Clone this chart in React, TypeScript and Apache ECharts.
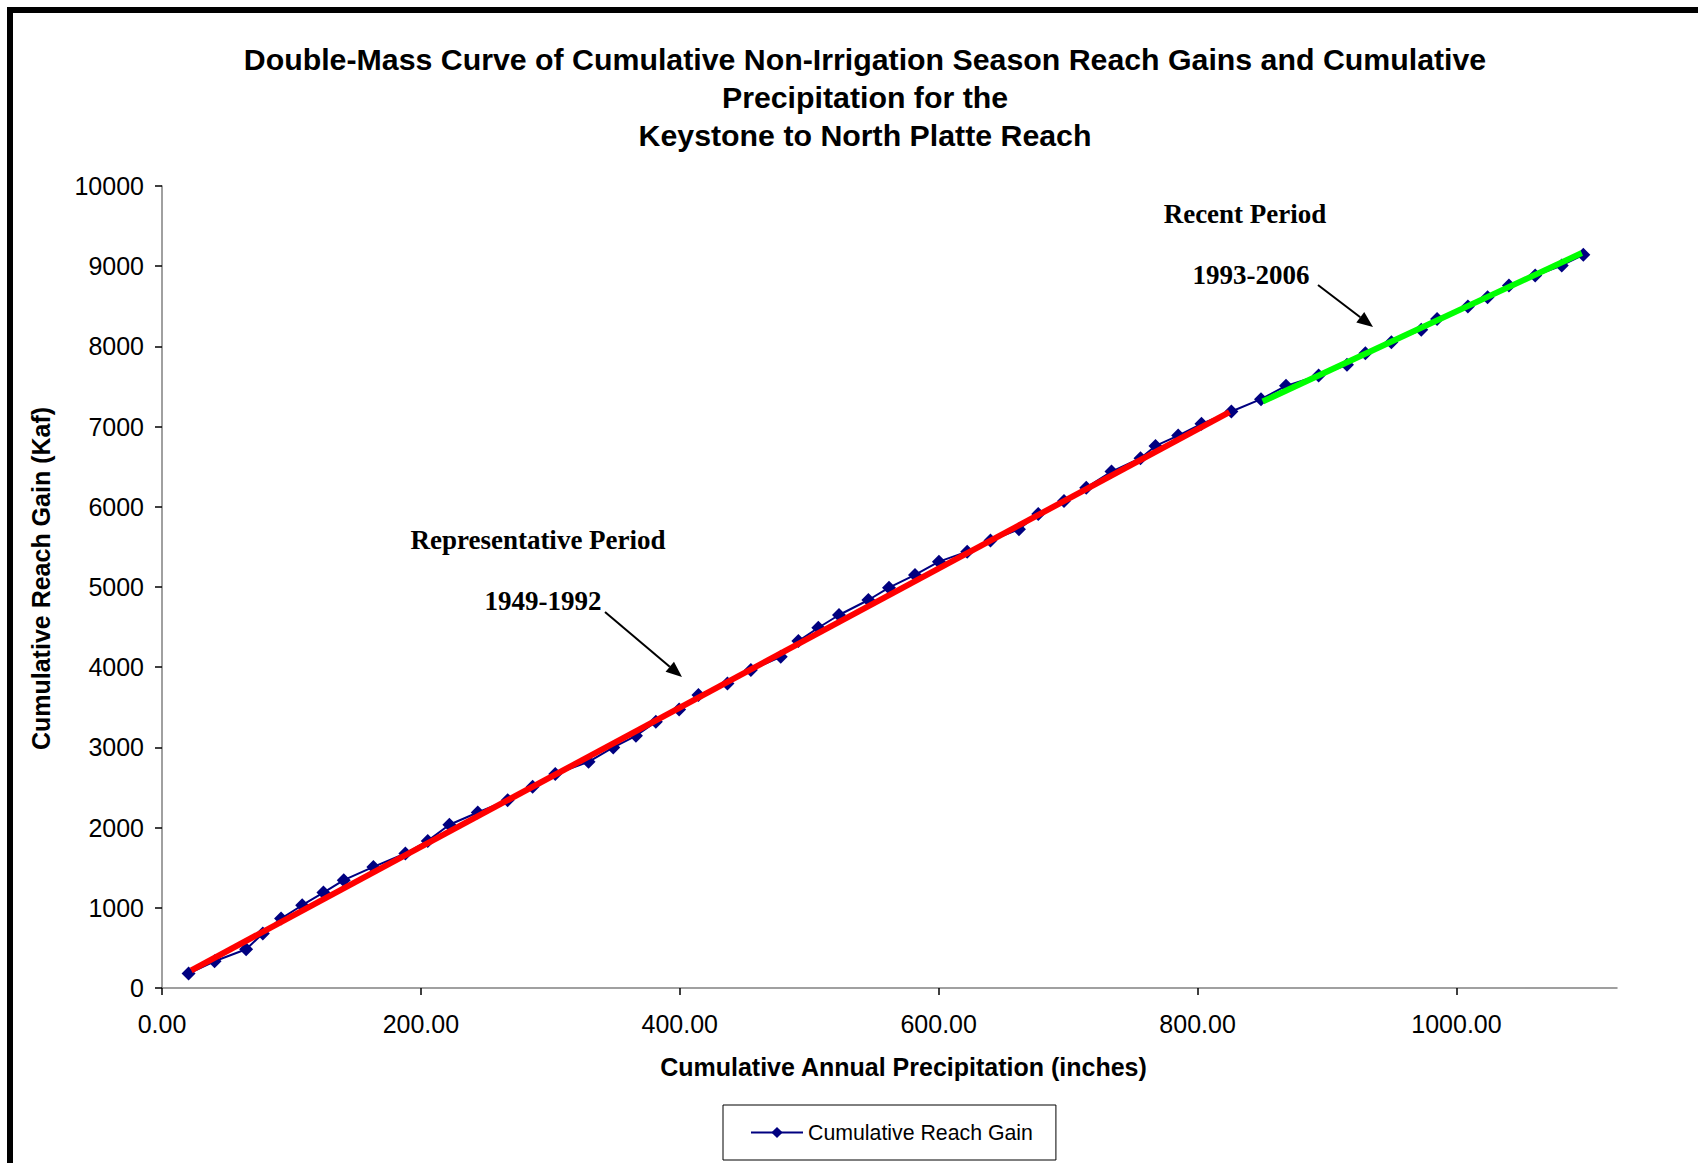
import React, { useEffect, useRef } from "react";
import * as echarts from "echarts";

// Cumulative annual precipitation (inches), 1949-2006
const precipitation = [
  20.5, 40.6, 65.0, 77.9, 92.0, 108.3, 124.7, 140.4, 163.3, 188.0,
  205.3, 222.0, 243.9, 267.0, 286.3, 303.8, 329.5, 348.6, 366.1, 381.5,
  399.5, 414.4, 436.8, 454.9, 478.0, 491.6, 507.0, 523.0, 545.7, 561.6,
  581.7, 600.2, 622.0, 640.0, 662.0, 676.9, 696.8, 714.0, 733.5, 755.9,
  767.5, 785.0, 803.0, 826.1, 849.0, 868.3, 893.5, 915.4, 929.6, 949.7,
  972.8, 985.0, 1008.8, 1024.0, 1040.5, 1060.8, 1081.3, 1098.0,
];
// Cumulative reach gain (Kaf)
const reachGain = [
  180, 333, 483, 679, 866, 1032, 1190, 1344, 1510, 1677,
  1834, 2036, 2188, 2342, 2508, 2667, 2820, 3000, 3145, 3319,
  3474, 3652, 3798, 3964, 4130, 4326, 4492, 4651, 4838, 4991,
  5150, 5316, 5441, 5580, 5720, 5911, 6073, 6239, 6439, 6606,
  6759, 6888, 7034, 7188, 7342, 7508, 7637, 7770, 7916, 8053,
  8207, 8341, 8498, 8612, 8758, 8884, 9009, 9143,
];
// Fitted lines drawn over the two periods (end points)
const representativeLine = [
  [22.6, 221],
  [824.6, 7180],
];
const recentLine = [
  [850.3, 7312],
  [1096.8, 9164],
];

const titleLines = [
  "Double-Mass Curve of Cumulative Non-Irrigation Season Reach Gains and Cumulative",
  "Precipitation for the",
  "Keystone to North Platte Reach",
];
const seriesName = "Cumulative Reach Gain";
const xAxisName = "Cumulative Annual Precipitation (inches)";
const yAxisName = "Cumulative Reach Gain (Kaf)";

const SANS = '"Liberation Sans", Arial, sans-serif';
const SERIF = '"Liberation Serif", "Times New Roman", serif';

function arrow(x1: number, y1: number, x2: number, y2: number) {
  const dx = x2 - x1;
  const dy = y2 - y1;
  const len = Math.sqrt(dx * dx + dy * dy);
  const ux = dx / len;
  const uy = dy / len;
  const hl = 16;
  const hw = 6.5;
  const bx = x2 - ux * hl;
  const by = y2 - uy * hl;
  return [
    {
      type: "line",
      shape: { x1, y1, x2: bx, y2: by },
      style: { stroke: "#000", lineWidth: 2 },
      silent: true,
    },
    {
      type: "polygon",
      shape: {
        points: [
          [x2, y2],
          [bx - uy * hw, by + ux * hw],
          [bx + uy * hw, by - ux * hw],
        ],
      },
      style: { fill: "#000" },
      silent: true,
    },
  ];
}

function label(text: string, x: number, y: number) {
  return {
    type: "text",
    x,
    y,
    style: {
      text,
      fontFamily: SERIF,
      fontSize: 27,
      fontWeight: "bold",
      fill: "#000",
      textAlign: "center",
      textVerticalAlign: "middle",
    },
  };
}

export default function App() {
  const ref = useRef<HTMLDivElement>(null);

  useEffect(() => {
    document.body.style.margin = "0";
    if (!ref.current) return;
    const chart = echarts.init(ref.current, undefined, { renderer: "svg" });
    const mainData = precipitation.map((x, i) => [x, reachGain[i]]);

    chart.setOption({
      animation: false,
      backgroundColor: "#ffffff",
      grid: { left: 162, right: 81, top: 186, bottom: 175, containLabel: false },
      legend: {
        data: [seriesName],
        left: 723,
        top: 1105,
        padding: [17, 23, 17, 27],
        itemWidth: 52,
        itemHeight: 14,
        borderColor: "#000",
        borderWidth: 1,
        textStyle: { fontFamily: SANS, fontSize: 21.3, color: "#000" },
      },
      xAxis: {
        type: "value",
        min: 0,
        max: 1124,
        interval: 200,
        name: xAxisName,
        nameLocation: "middle",
        nameGap: 66,
        nameTextStyle: {
          fontFamily: SANS,
          fontSize: 25,
          fontWeight: "bold",
          color: "#000",
          padding: [0, 0, 0, 28],
        },
        axisLine: { show: true, onZero: false, lineStyle: { color: "#808080", width: 1.5 } },
        axisTick: { show: true, length: 7, lineStyle: { color: "#000", width: 1.5 } },
        axisLabel: {
          margin: 23,
          fontFamily: SANS,
          fontSize: 25,
          color: "#000",
          showMaxLabel: false,
          formatter: (v: number) => v.toFixed(2),
        },
        splitLine: { show: false },
      },
      yAxis: {
        type: "value",
        min: 0,
        max: 10000,
        interval: 1000,
        name: yAxisName,
        nameLocation: "middle",
        nameGap: 109,
        nameTextStyle: {
          fontFamily: SANS,
          fontSize: 25,
          fontWeight: "bold",
          color: "#000",
          padding: [0, 0, 0, 17],
        },
        axisLine: { show: true, onZero: false, lineStyle: { color: "#808080", width: 1.5 } },
        axisTick: { show: true, length: 7, lineStyle: { color: "#000", width: 1.5 } },
        axisLabel: {
          margin: 18,
          fontFamily: SANS,
          fontSize: 25,
          color: "#000",
          formatter: (v: number) => String(v),
        },
        splitLine: { show: false },
      },
      series: [
        {
          name: seriesName,
          type: "line",
          data: mainData,
          symbol: "diamond",
          symbolSize: 14,
          showSymbol: true,
          itemStyle: { color: "#000080" },
          lineStyle: { color: "#000080", width: 2 },
          z: 2,
        },
        {
          name: "Representative Period fit",
          type: "line",
          data: representativeLine,
          symbol: "none",
          lineStyle: { color: "#ff0000", width: 6 },
          z: 3,
        },
        {
          name: "Recent Period fit",
          type: "line",
          data: recentLine,
          symbol: "none",
          lineStyle: { color: "#00ff00", width: 6 },
          z: 3,
        },
      ],
      graphic: [
        {
          type: "rect",
          shape: { x: 10, y: 10, width: 1800, height: 1400 },
          style: { fill: "none", stroke: "#000", lineWidth: 6 },
          silent: true,
        },
        ...titleLines.map((t, i) => ({
          type: "text",
          x: 865,
          y: 59 + i * 38,
          style: {
            text: t,
            fontFamily: SANS,
            fontSize: 30.3,
            fontWeight: "bold",
            fill: "#000",
            textAlign: "center",
            textVerticalAlign: "middle",
          },
        })),
        label("Representative Period", 538, 540),
        label("1949-1992", 543, 601),
        label("Recent Period", 1245, 214),
        label("1993-2006", 1251, 275),
        ...arrow(605, 612, 682, 677),
        ...arrow(1318, 285, 1373, 327),
      ],
    });

    return () => {
      chart.dispose();
    };
  }, []);

  return <div ref={ref} style={{ width: 1698, height: 1163, overflow: "hidden" }} />;
}
